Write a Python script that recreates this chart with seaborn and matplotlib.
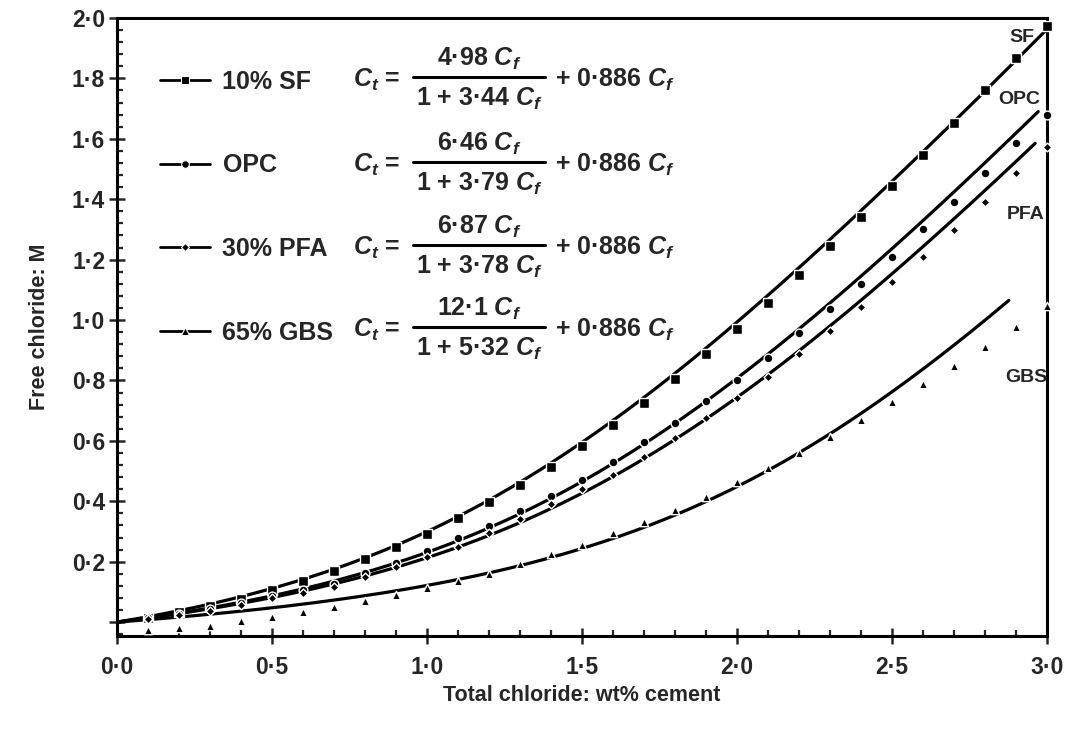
import numpy as np
import pandas as pd
import matplotlib
matplotlib.use("Agg")
import matplotlib.pyplot as plt
from matplotlib.lines import Line2D
from matplotlib.ticker import MultipleLocator, FuncFormatter, FixedLocator
import seaborn as sns

# Total chloride (wt% cement) at which each mix was measured
total_cl = [0.1, 0.2, 0.3, 0.4, 0.5, 0.6, 0.7, 0.8, 0.9, 1.0,
            1.1, 1.2, 1.3, 1.4, 1.5, 1.6, 1.7, 1.8, 1.9, 2.0,
            2.1, 2.2, 2.3, 2.4, 2.5, 2.6, 2.7, 2.8, 2.9, 3.0]

# Measured free chloride (M)
free_sf = [0.015, 0.035, 0.052, 0.078, 0.106, 0.136, 0.169, 0.209, 0.250, 0.293,
           0.344, 0.397, 0.453, 0.515, 0.582, 0.652, 0.727, 0.805, 0.886, 0.972,
           1.058, 1.150, 1.246, 1.342, 1.444, 1.547, 1.654, 1.760, 1.868, 1.975]
free_opc = [0.013, 0.027, 0.042, 0.063, 0.088, 0.106, 0.127, 0.161, 0.195, 0.234,
            0.277, 0.318, 0.367, 0.417, 0.470, 0.530, 0.596, 0.659, 0.732, 0.801,
            0.874, 0.957, 1.036, 1.120, 1.209, 1.300, 1.390, 1.487, 1.586, 1.680]
free_pfa = [0.011, 0.022, 0.036, 0.058, 0.080, 0.098, 0.116, 0.149, 0.182, 0.215,
            0.250, 0.295, 0.341, 0.391, 0.440, 0.487, 0.546, 0.609, 0.675, 0.742,
            0.811, 0.887, 0.964, 1.043, 1.126, 1.209, 1.298, 1.390, 1.487, 1.573]
free_gbs = [-0.025, -0.020, -0.012, 0.003, 0.017, 0.033, 0.050, 0.070, 0.089, 0.113,
            0.136, 0.159, 0.192, 0.225, 0.255, 0.295, 0.331, 0.371, 0.414, 0.464,
            0.510, 0.560, 0.613, 0.669, 0.728, 0.788, 0.848, 0.911, 0.977, 1.046]

mixes = ["10% SF", "OPC", "30% PFA", "65% GBS"]
end_labels = ["SF", "OPC", "PFA", "GBS"]

# Binding isotherm  C_t = a C_f / (1 + b C_f) + 0.886 C_f
iso_a = [4.98, 6.46, 6.87, 12.1]
iso_b = [3.44, 3.79, 3.78, 5.32]
pore_term = 0.886
fit_top = [1.975, 1.69, 1.585, 1.065]   # highest free chloride drawn for each fit

markers = ["s", "o", "D", "^"]
marker_area = [48, 40, 20, 36]

# ---------------------------------------------------------------- style
sns.set_theme(style="white")
plt.rcParams.update({
    "font.family": ["Liberation Sans", "DejaVu Sans"],
    "font.weight": "bold",
    "mathtext.fontset": "custom",
    "mathtext.rm": "Liberation Sans:bold",
    "mathtext.it": "Liberation Sans:italic:bold",
    "mathtext.bf": "Liberation Sans:bold",
    "axes.linewidth": 2.2,
    "axes.edgecolor": "black",
})

W, H = 1067, 732
fig = plt.figure(figsize=(W / 100, H / 100), dpi=100)
ax = fig.add_axes([117 / W, 1 - 636 / H, (1047 - 117) / W, (636 - 18) / H])

df = pd.DataFrame({
    "total": total_cl * 4,
    "free": free_sf + free_opc + free_pfa + free_gbs,
    "mix": np.repeat(mixes, len(total_cl)),
})

# fitted isotherms
for a, b, top in zip(iso_a, iso_b, fit_top):
    cf = np.linspace(0.0, top, 300)
    ct = a * cf / (1 + b * cf) + pore_term * cf
    sns.lineplot(x=ct, y=cf, sort=False, estimator=None, color="black",
                 linewidth=2.3, ax=ax, zorder=2)

# measured points
for mix, mk, area in zip(mixes, markers, marker_area):
    sub = df[df["mix"] == mix]
    sns.scatterplot(data=sub, x="total", y="free", marker=mk, s=area,
                    color="black", edgecolor="white", linewidth=1.0,
                    ax=ax, zorder=3, clip_on=False, legend=False)

ax.set_xlim(0, 3.0)
ax.set_ylim(-0.046, 2.0)

dot = lambda v, _pos=None: f"{v:.1f}".replace(".", "\u00b7")
ax.xaxis.set_major_locator(FixedLocator([0, 0.5, 1.0, 1.5, 2.0, 2.5, 3.0]))
ax.xaxis.set_minor_locator(MultipleLocator(0.1))
ax.xaxis.set_major_formatter(FuncFormatter(dot))
ax.yaxis.set_major_locator(FixedLocator([0, 0.2, 0.4, 0.6, 0.8, 1.0, 1.2, 1.4, 1.6, 1.8, 2.0]))
ax.yaxis.set_minor_locator(MultipleLocator(0.04))
ax.yaxis.set_major_formatter(FuncFormatter(lambda v, p: "" if abs(v) < 1e-9 else dot(v)))

ax.tick_params(which="major", direction="inout", length=11, width=1.8,
               labelsize=16.5, bottom=True, left=True, top=False, right=False)
ax.tick_params(axis="x", which="major", pad=9)
ax.tick_params(axis="y", which="major", pad=3)
ax.tick_params(which="minor", direction="in", length=4.5, width=1.6,
               bottom=True, left=True, top=False, right=False)
for lab in ax.get_xticklabels() + ax.get_yticklabels():
    lab.set_fontweight("bold")

ax.set_xlabel("Total chloride: wt% cement", fontsize=15.5, fontweight="bold", labelpad=4)
ax.set_ylabel("Free chloride: M", fontsize=15.5, fontweight="bold", labelpad=16)

# curve labels at the right-hand end
label_pos = [(2.92, 1.935), (2.91, 1.73), (2.93, 1.35), (2.935, 0.81)]
for name, (x, y) in zip(end_labels, label_pos):
    ax.text(x, y, name, ha="center", va="center", fontsize=14, fontweight="bold")

# legend
handles = [Line2D([], [], color="black", linewidth=2.0, marker=mk,
                  markersize=5.5 if mk != "D" else 4.5, markeredgecolor="white",
                  markeredgewidth=0.8)
           for mk in markers]
leg = ax.legend(handles, mixes, loc="upper left", bbox_to_anchor=(160 / W, 1 - 70 / H),
                bbox_transform=fig.transFigure, frameon=False, fontsize=18,
                handlelength=2.0, handletextpad=0.5, labelspacing=2.38,
                borderaxespad=0, borderpad=0)
for t in leg.get_texts():
    t.set_fontweight("bold")

# isotherm equations beside the legend
row_y = [80, 165, 248, 330]
eq_fs = 18
def fig_xy(px, py):
    return px / W, 1 - py / H

def num_str(v):
    return f"{v:g}".replace(".", "\u00b7")

for a, b, yc in zip(iso_a, iso_b, row_y):
    fig.text(*fig_xy(353, yc), r"$C_t$ =", ha="left", va="center",
             fontsize=eq_fs, fontweight="bold")
    fig.text(*fig_xy(479, yc - 21), f"{num_str(a)} $C_f$", ha="center", va="center",
             fontsize=eq_fs, fontweight="bold")
    fig.text(*fig_xy(479, yc + 19), f"1 + {num_str(b)} $C_f$", ha="center", va="center",
             fontsize=eq_fs, fontweight="bold")
    x0, y0 = fig_xy(413, yc - 3)
    x1, _ = fig_xy(545, yc - 3)
    fig.add_artist(Line2D([x0, x1], [y0, y0], transform=fig.transFigure,
                          color="black", linewidth=2.2))
    fig.text(*fig_xy(555, yc), f"+ {num_str(pore_term)} $C_f$", ha="left", va="center",
             fontsize=eq_fs, fontweight="bold")

fig.savefig("out.png", dpi=100)
